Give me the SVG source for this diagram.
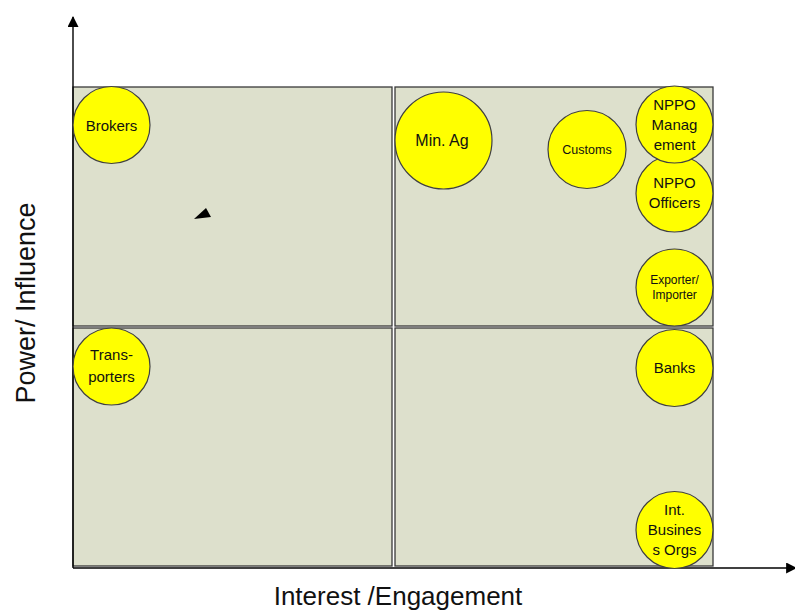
<svg xmlns="http://www.w3.org/2000/svg" width="795" height="612" viewBox="0 0 795 612">
<style>
.q{fill:#DDE0CC;stroke:#3a3a3a;stroke-width:1.3}
.c{fill:#FFFF00;stroke:#404040;stroke-width:1.2}
.t{font-family:"Liberation Sans",Arial,sans-serif;fill:#111;text-anchor:middle}
.ax{stroke:#000;stroke-width:1.4;fill:none}
</style>
<defs>
<marker id="ah" viewBox="0 0 10 10" refX="9" refY="5" markerWidth="15" markerHeight="11" markerUnits="userSpaceOnUse" orient="auto">
<path d="M0,0L10,5L0,10z" fill="#000"/>
</marker>
</defs>
<rect width="795" height="612" fill="#fff"/>
<g id="quadrants">
<rect class="q" x="73" y="87" width="319" height="239"/>
<rect class="q" x="395" y="87" width="318" height="239"/>
<rect class="q" x="73" y="328" width="319" height="238"/>
<rect class="q" x="395" y="328" width="318" height="238"/>
</g>
<g id="connectors">
<line class="ax" x1="73" y1="568" x2="73" y2="17" marker-end="url(#ah)"/>
<line class="ax" x1="73" y1="568" x2="796" y2="568" marker-end="url(#ah)"/>
<polygon points="194,219 206,208 211,217" fill="#000"/>
</g>
<g id="brokers"><circle class="c" cx="111.5" cy="125" r="38.5"/><text class="t" x="111.5" y="131" font-size="15">Brokers</text></g>
<g id="minag"><circle class="c" cx="443.5" cy="140.5" r="48.5"/><text class="t" x="442" y="146" font-size="16">Min. Ag</text></g>
<g id="customs"><circle class="c" cx="587" cy="149.5" r="39"/><text class="t" x="587" y="154" font-size="12.5">Customs</text></g>
<g id="nppo-officers"><circle class="c" cx="674.5" cy="193.5" r="38.5"/><text class="t" font-size="15"><tspan x="674.5" y="188">NPPO</tspan><tspan x="674.5" y="208">Officers</tspan></text></g>
<g id="nppo-management"><circle class="c" cx="674.5" cy="124.5" r="38.5"/><text class="t" font-size="15"><tspan x="674.5" y="110">NPPO</tspan><tspan x="674.5" y="130">Manag</tspan><tspan x="674.5" y="150">ement</tspan></text></g>
<g id="exporter"><circle class="c" cx="674.5" cy="287.5" r="38.5"/><text class="t" font-size="12"><tspan x="674.5" y="284">Exporter/</tspan><tspan x="674.5" y="299">Importer</tspan></text></g>
<g id="banks"><circle class="c" cx="674.5" cy="368" r="38.5"/><text class="t" x="674.5" y="373" font-size="15">Banks</text></g>
<g id="intbus"><circle class="c" cx="674.5" cy="530" r="38.5"/><text class="t" font-size="15"><tspan x="674.5" y="515">Int.</tspan><tspan x="674.5" y="535">Busines</tspan><tspan x="674.5" y="555">s Orgs</tspan></text></g>
<g id="transporters"><circle class="c" cx="111.5" cy="366.5" r="38.5"/><text class="t" font-size="15"><tspan x="111.5" y="360">Trans-</tspan><tspan x="111.5" y="382">porters</tspan></text></g>
<g id="labels">
<text class="t" font-size="27" transform="translate(35,303) rotate(-90)" fill="#000">Power/ Influence</text>
<text class="t" x="398" y="605" font-size="26">Interest /Engagement</text>
</g>
</svg>
